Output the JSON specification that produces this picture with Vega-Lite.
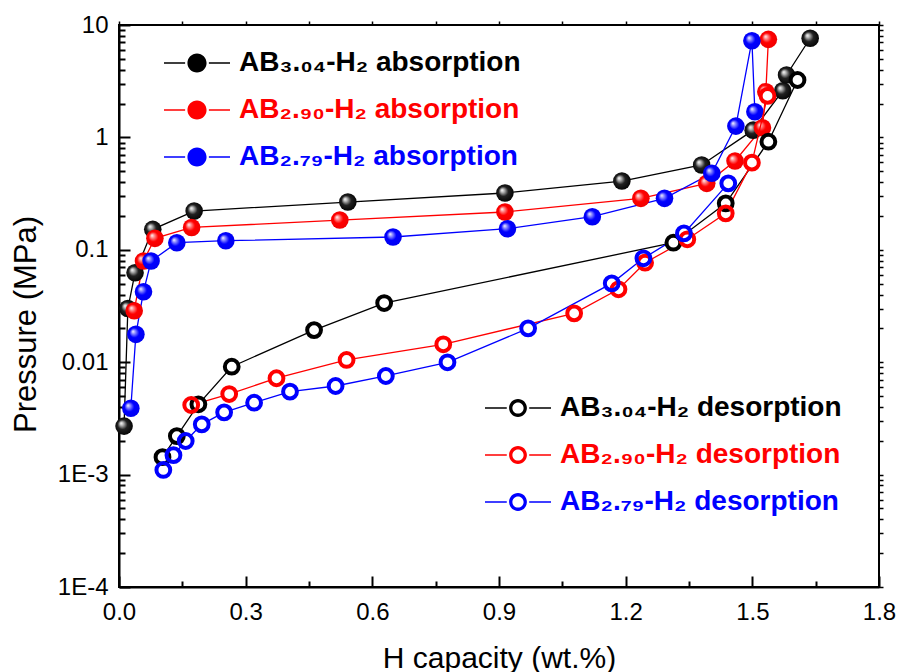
{
  "$schema": "https://vega.github.io/schema/vega-lite/v6.json",
  "width": 760,
  "height": 562,
  "autosize": {"type": "none"},
  "padding": {"left": 119, "top": 25, "right": 18, "bottom": 85},
  "background": "white",
  "config": {
    "view": {"stroke": "black", "strokeWidth": 2},
    "font": "Liberation Sans",
    "axis": {"grid": false}
  },
  "datasets": {
    "abs": [
      {"name": "AB₃.₀₄-H₂ absorption", "s": "3.04", "x": 0.012, "p": 0.0027},
      {"name": "AB₃.₀₄-H₂ absorption", "s": "3.04", "x": 0.021, "p": 0.030},
      {"name": "AB₃.₀₄-H₂ absorption", "s": "3.04", "x": 0.038, "p": 0.0625},
      {"name": "AB₃.₀₄-H₂ absorption", "s": "3.04", "x": 0.080, "p": 0.152},
      {"name": "AB₃.₀₄-H₂ absorption", "s": "3.04", "x": 0.178, "p": 0.221},
      {"name": "AB₃.₀₄-H₂ absorption", "s": "3.04", "x": 0.542, "p": 0.266},
      {"name": "AB₃.₀₄-H₂ absorption", "s": "3.04", "x": 0.914, "p": 0.320},
      {"name": "AB₃.₀₄-H₂ absorption", "s": "3.04", "x": 1.191, "p": 0.409},
      {"name": "AB₃.₀₄-H₂ absorption", "s": "3.04", "x": 1.380, "p": 0.568},
      {"name": "AB₃.₀₄-H₂ absorption", "s": "3.04", "x": 1.502, "p": 1.16},
      {"name": "AB₃.₀₄-H₂ absorption", "s": "3.04", "x": 1.572, "p": 2.6},
      {"name": "AB₃.₀₄-H₂ absorption", "s": "3.04", "x": 1.581, "p": 3.59},
      {"name": "AB₃.₀₄-H₂ absorption", "s": "3.04", "x": 1.637, "p": 7.62},
      {"name": "AB₂.₉₀-H₂ absorption", "s": "2.90", "x": 0.036, "p": 0.0287},
      {"name": "AB₂.₉₀-H₂ absorption", "s": "2.90", "x": 0.058, "p": 0.0794},
      {"name": "AB₂.₉₀-H₂ absorption", "s": "2.90", "x": 0.085, "p": 0.1265},
      {"name": "AB₂.₉₀-H₂ absorption", "s": "2.90", "x": 0.172, "p": 0.158},
      {"name": "AB₂.₉₀-H₂ absorption", "s": "2.90", "x": 0.523, "p": 0.184},
      {"name": "AB₂.₉₀-H₂ absorption", "s": "2.90", "x": 0.914, "p": 0.217},
      {"name": "AB₂.₉₀-H₂ absorption", "s": "2.90", "x": 1.236, "p": 0.287},
      {"name": "AB₂.₉₀-H₂ absorption", "s": "2.90", "x": 1.392, "p": 0.39},
      {"name": "AB₂.₉₀-H₂ absorption", "s": "2.90", "x": 1.459, "p": 0.617},
      {"name": "AB₂.₉₀-H₂ absorption", "s": "2.90", "x": 1.524, "p": 1.22},
      {"name": "AB₂.₉₀-H₂ absorption", "s": "2.90", "x": 1.532, "p": 2.55},
      {"name": "AB₂.₉₀-H₂ absorption", "s": "2.90", "x": 1.538, "p": 7.45},
      {"name": "AB₂.₇₉-H₂ absorption", "s": "2.79", "x": 0.028, "p": 0.00389},
      {"name": "AB₂.₇₉-H₂ absorption", "s": "2.79", "x": 0.040, "p": 0.0177},
      {"name": "AB₂.₇₉-H₂ absorption", "s": "2.79", "x": 0.058, "p": 0.0424},
      {"name": "AB₂.₇₉-H₂ absorption", "s": "2.79", "x": 0.076, "p": 0.0794},
      {"name": "AB₂.₇₉-H₂ absorption", "s": "2.79", "x": 0.137, "p": 0.1156},
      {"name": "AB₂.₇₉-H₂ absorption", "s": "2.79", "x": 0.253, "p": 0.1205},
      {"name": "AB₂.₇₉-H₂ absorption", "s": "2.79", "x": 0.649, "p": 0.130},
      {"name": "AB₂.₇₉-H₂ absorption", "s": "2.79", "x": 0.920, "p": 0.154},
      {"name": "AB₂.₇₉-H₂ absorption", "s": "2.79", "x": 1.121, "p": 0.197},
      {"name": "AB₂.₇₉-H₂ absorption", "s": "2.79", "x": 1.292, "p": 0.287},
      {"name": "AB₂.₇₉-H₂ absorption", "s": "2.79", "x": 1.404, "p": 0.48},
      {"name": "AB₂.₇₉-H₂ absorption", "s": "2.79", "x": 1.461, "p": 1.26},
      {"name": "AB₂.₇₉-H₂ absorption", "s": "2.79", "x": 1.499, "p": 7.25},
      {"name": "AB₂.₇₉-H₂ absorption", "s": "2.79", "x": 1.506, "p": 1.69}
    ],
    "des": [
      {"name": "AB₃.₀₄-H₂ desorption", "s": "3.04", "x": 0.103, "p": 0.00143},
      {"name": "AB₃.₀₄-H₂ desorption", "s": "3.04", "x": 0.137, "p": 0.0022},
      {"name": "AB₃.₀₄-H₂ desorption", "s": "3.04", "x": 0.188, "p": 0.00422},
      {"name": "AB₃.₀₄-H₂ desorption", "s": "3.04", "x": 0.267, "p": 0.00912},
      {"name": "AB₃.₀₄-H₂ desorption", "s": "3.04", "x": 0.462, "p": 0.0193},
      {"name": "AB₃.₀₄-H₂ desorption", "s": "3.04", "x": 0.628, "p": 0.0336},
      {"name": "AB₃.₀₄-H₂ desorption", "s": "3.04", "x": 1.313, "p": 0.1156},
      {"name": "AB₃.₀₄-H₂ desorption", "s": "3.04", "x": 1.437, "p": 0.259},
      {"name": "AB₃.₀₄-H₂ desorption", "s": "3.04", "x": 1.538, "p": 0.916},
      {"name": "AB₃.₀₄-H₂ desorption", "s": "3.04", "x": 1.607, "p": 3.24},
      {"name": "AB₂.₉₀-H₂ desorption", "s": "2.90", "x": 0.171, "p": 0.00416},
      {"name": "AB₂.₉₀-H₂ desorption", "s": "2.90", "x": 0.261, "p": 0.00521},
      {"name": "AB₂.₉₀-H₂ desorption", "s": "2.90", "x": 0.373, "p": 0.0072},
      {"name": "AB₂.₉₀-H₂ desorption", "s": "2.90", "x": 0.539, "p": 0.01047},
      {"name": "AB₂.₉₀-H₂ desorption", "s": "2.90", "x": 0.768, "p": 0.01442},
      {"name": "AB₂.₉₀-H₂ desorption", "s": "2.90", "x": 1.078, "p": 0.0272},
      {"name": "AB₂.₉₀-H₂ desorption", "s": "2.90", "x": 1.183, "p": 0.0445},
      {"name": "AB₂.₉₀-H₂ desorption", "s": "2.90", "x": 1.246, "p": 0.0768},
      {"name": "AB₂.₉₀-H₂ desorption", "s": "2.90", "x": 1.346, "p": 0.124},
      {"name": "AB₂.₉₀-H₂ desorption", "s": "2.90", "x": 1.437, "p": 0.211},
      {"name": "AB₂.₉₀-H₂ desorption", "s": "2.90", "x": 1.499, "p": 0.596},
      {"name": "AB₂.₉₀-H₂ desorption", "s": "2.90", "x": 1.536, "p": 2.34},
      {"name": "AB₂.₇₉-H₂ desorption", "s": "2.79", "x": 0.105, "p": 0.0011},
      {"name": "AB₂.₇₉-H₂ desorption", "s": "2.79", "x": 0.129, "p": 0.00149},
      {"name": "AB₂.₇₉-H₂ desorption", "s": "2.79", "x": 0.158, "p": 0.00199},
      {"name": "AB₂.₇₉-H₂ desorption", "s": "2.79", "x": 0.196, "p": 0.0028},
      {"name": "AB₂.₇₉-H₂ desorption", "s": "2.79", "x": 0.249, "p": 0.00358},
      {"name": "AB₂.₇₉-H₂ desorption", "s": "2.79", "x": 0.320, "p": 0.00436},
      {"name": "AB₂.₇₉-H₂ desorption", "s": "2.79", "x": 0.405, "p": 0.00547},
      {"name": "AB₂.₇₉-H₂ desorption", "s": "2.79", "x": 0.513, "p": 0.00614},
      {"name": "AB₂.₇₉-H₂ desorption", "s": "2.79", "x": 0.632, "p": 0.00754},
      {"name": "AB₂.₇₉-H₂ desorption", "s": "2.79", "x": 0.778, "p": 0.00998},
      {"name": "AB₂.₇₉-H₂ desorption", "s": "2.79", "x": 0.969, "p": 0.020},
      {"name": "AB₂.₇₉-H₂ desorption", "s": "2.79", "x": 1.167, "p": 0.0503},
      {"name": "AB₂.₇₉-H₂ desorption", "s": "2.79", "x": 1.242, "p": 0.084},
      {"name": "AB₂.₇₉-H₂ desorption", "s": "2.79", "x": 1.338, "p": 0.140},
      {"name": "AB₂.₇₉-H₂ desorption", "s": "2.79", "x": 1.443, "p": 0.39}
    ]
  },
  "layer": [
    {
      "data": {"name": "abs"},
      "encoding": {
        "x": {
          "field": "x",
          "type": "quantitative",
          "scale": {"domain": [0, 1.8], "nice": false, "zero": false},
          "axis": {
            "orient": "bottom",
            "title": "H capacity (wt.%)",
            "values": [0, 0.15, 0.3, 0.45, 0.6, 0.75, 0.9, 1.05, 1.2, 1.35, 1.5, 1.65, 1.8],
            "labelExpr": "round(datum.value*100) % 30 == 0 ? format(datum.value, '.1f') : ''",
            "tickSize": {"condition": {"test": "round(datum.value*100) % 30 == 0", "value": -11}, "value": -6},
            "labelPadding": 24,
            "labelFlush": false,
            "labelOverlap": false,
            "labelFontSize": 24,
            "labelColor": "black",
            "labelFont": "Liberation Sans",
            "domainColor": "black",
            "domainWidth": 2,
            "tickColor": "black",
            "tickWidth": 2,
            "titleFontSize": 30,
            "titleFontWeight": "normal",
            "titleColor": "black",
            "titleFont": "Liberation Sans",
            "titleBaseline": "alphabetic",
            "titleY": 80
          }
        },
        "y": {
          "field": "p",
          "type": "quantitative",
          "scale": {"type": "log", "domain": [0.0001, 10], "nice": false},
          "axis": {
            "orient": "left",
            "title": "Pressure (MPa)",
            "values": [0.0001, 0.0002, 0.0003, 0.0004, 0.0005, 0.0006, 0.0007, 0.0008, 0.0009, 0.001, 0.002, 0.003, 0.004, 0.005, 0.006, 0.007, 0.008, 0.009, 0.01, 0.02, 0.03, 0.04, 0.05, 0.06, 0.07, 0.08, 0.09, 0.1, 0.2, 0.3, 0.4, 0.5, 0.6, 0.7, 0.8, 0.9, 1, 2, 3, 4, 5, 6, 7, 8, 9, 10],
            "labelExpr": "abs(log(datum.value)/LN10 - round(log(datum.value)/LN10)) < 0.000001 ? (datum.value < 0.005 ? '1E' + round(log(datum.value)/LN10) : '' + datum.value) : ''",
            "tickSize": {"condition": {"test": "abs(log(datum.value)/LN10 - round(log(datum.value)/LN10)) < 0.000001", "value": -11}, "value": -6},
            "labelPadding": 22,
            "labelFlush": false,
            "labelOverlap": false,
            "labelFontSize": 24,
            "labelColor": "black",
            "labelFont": "Liberation Sans",
            "domainColor": "black",
            "domainWidth": 2,
            "tickColor": "black",
            "tickWidth": 2,
            "titleFontSize": 31,
            "titleFontWeight": "normal",
            "titleColor": "black",
            "titleFont": "Liberation Sans",
            "titleAngle": -90,
            "titleBaseline": "alphabetic",
            "titleAlign": "center",
            "titleX": -84,
            "titleY": 299
          }
        }
      },
      "layer": [
        {
          "mark": {"type": "line", "strokeWidth": 1.3},
          "encoding": {
            "color": {
              "field": "name",
              "type": "nominal",
              "scale": {"domain": ["AB₃.₀₄-H₂ absorption", "AB₂.₉₀-H₂ absorption", "AB₂.₇₉-H₂ absorption"], "range": ["#000000", "#ff0000", "#0000ff"]},
              "legend": {
                "title": null,
                "orient": "none",
                "legendX": 45,
                "legendY": 18,
                "padding": 0,
                "symbolType": "M-1,-0.023H-0.36V0.023H-1Z M0.36,-0.023H1V0.023H0.36Z M0.29,0A0.29,0.29 0 1,1 -0.29,0A0.29,0.29 0 1,1 0.29,0Z",
                "symbolSize": 4356,
                "symbolStrokeWidth": 0,
                "symbolOpacity": 1,
                "symbolFillColor": {"expr": "datum.index == 0 ? '#000000' : datum.index == 1 ? '#ff0000' : '#0000ff'"},
                "labelColor": {"expr": "datum.index == 0 ? '#000000' : datum.index == 1 ? '#ff0000' : '#0000ff'"},
                "labelFont": "Liberation Sans",
                "labelFontWeight": "bold",
                "labelFontSize": 28,
                "labelOffset": 9,
                "labelLimit": 500,
                "clipHeight": 40,
                "rowPadding": 7
              }
            }
          }
        },
        {
          "transform": [{"filter": "datum.s == '3.04'"}],
          "mark": {"type": "point", "filled": true, "size": 310, "opacity": 1, "strokeWidth": 0,
            "fill": {"gradient": "radial", "x1": 0.33, "y1": 0.33, "r1": 0, "x2": 0.5, "y2": 0.5, "r2": 0.55,
              "stops": [{"offset": 0, "color": "#ffffff"}, {"offset": 0.18, "color": "#bbbbbb"}, {"offset": 0.5, "color": "#222222"}, {"offset": 1, "color": "#000000"}]}}
        },
        {
          "transform": [{"filter": "datum.s == '2.90'"}],
          "mark": {"type": "point", "filled": true, "size": 310, "opacity": 1, "strokeWidth": 0,
            "fill": {"gradient": "radial", "x1": 0.33, "y1": 0.33, "r1": 0, "x2": 0.5, "y2": 0.5, "r2": 0.55,
              "stops": [{"offset": 0, "color": "#ffffff"}, {"offset": 0.18, "color": "#ff9999"}, {"offset": 0.5, "color": "#ff0000"}, {"offset": 1, "color": "#ee0000"}]}}
        },
        {
          "transform": [{"filter": "datum.s == '2.79'"}],
          "mark": {"type": "point", "filled": true, "size": 310, "opacity": 1, "strokeWidth": 0,
            "fill": {"gradient": "radial", "x1": 0.33, "y1": 0.33, "r1": 0, "x2": 0.5, "y2": 0.5, "r2": 0.55,
              "stops": [{"offset": 0, "color": "#ffffff"}, {"offset": 0.18, "color": "#9999ff"}, {"offset": 0.5, "color": "#0000ff"}, {"offset": 1, "color": "#0000ee"}]}}
        }
      ]
    },
    {
      "data": {"name": "des"},
      "encoding": {
        "x": {"field": "x", "type": "quantitative", "axis": null},
        "y": {"field": "p", "type": "quantitative", "axis": null}
      },
      "layer": [
        {
          "mark": {"type": "line", "strokeWidth": 1.3},
          "encoding": {
            "color": {
              "field": "name",
              "type": "nominal",
              "scale": {"domain": ["AB₃.₀₄-H₂ desorption", "AB₂.₉₀-H₂ desorption", "AB₂.₇₉-H₂ desorption"], "range": ["#000000", "#ff0000", "#0000ff"]},
              "legend": {
                "title": null,
                "orient": "none",
                "legendX": 366,
                "legendY": 363,
                "padding": 0,
                "symbolType": "M-1,-0.023H-0.34V0.023H-1Z M0.34,-0.023H1V0.023H0.34Z M0.27,0A0.27,0.27 0 1,1 -0.27,0A0.27,0.27 0 1,1 0.27,0Z M0.17,0A0.17,0.17 0 1,0 -0.17,0A0.17,0.17 0 1,0 0.17,0Z",
                "symbolSize": 4356,
                "symbolStrokeWidth": 0,
                "symbolOpacity": 1,
                "symbolFillColor": {"expr": "datum.index == 0 ? '#000000' : datum.index == 1 ? '#ff0000' : '#0000ff'"},
                "labelColor": {"expr": "datum.index == 0 ? '#000000' : datum.index == 1 ? '#ff0000' : '#0000ff'"},
                "labelFont": "Liberation Sans",
                "labelFontWeight": "bold",
                "labelFontSize": 28,
                "labelOffset": 9,
                "labelLimit": 500,
                "clipHeight": 40,
                "rowPadding": 7
              }
            }
          }
        },
        {
          "mark": {"type": "point", "filled": true, "size": 190, "opacity": 1, "strokeWidth": 0, "color": "white"}
        },
        {
          "mark": {"type": "point", "filled": false, "size": 190, "opacity": 1, "strokeWidth": 4},
          "encoding": {
            "color": {"field": "name", "type": "nominal", "legend": null}
          }
        }
      ]
    },
    {
      "data": {"name": "abs"},
      "mark": {"type": "point", "opacity": 0},
      "encoding": {
        "x": {
          "field": "x",
          "type": "quantitative",
          "axis": {"orient": "top", "title": null, "labels": false, "domain": false, "values": [0, 0.15, 0.3, 0.45, 0.6, 0.75, 0.9, 1.05, 1.2, 1.35, 1.5, 1.65, 1.8], "tickSize": 4, "tickWidth": 1.5, "tickColor": "black"}
        },
        "y": {
          "field": "p",
          "type": "quantitative",
          "axis": {"orient": "right", "title": null, "labels": false, "domain": false, "values": [0.0001, 0.0002, 0.0003, 0.0004, 0.0005, 0.0006, 0.0007, 0.0008, 0.0009, 0.001, 0.002, 0.003, 0.004, 0.005, 0.006, 0.007, 0.008, 0.009, 0.01, 0.02, 0.03, 0.04, 0.05, 0.06, 0.07, 0.08, 0.09, 0.1, 0.2, 0.3, 0.4, 0.5, 0.6, 0.7, 0.8, 0.9, 1, 2, 3, 4, 5, 6, 7, 8, 9, 10], "tickSize": 4, "tickWidth": 1.5, "tickColor": "black"}
        }
      }
    }
  ],
  "resolve": {"scale": {"color": "independent"}, "axis": {"x": "independent", "y": "independent"}}
}
